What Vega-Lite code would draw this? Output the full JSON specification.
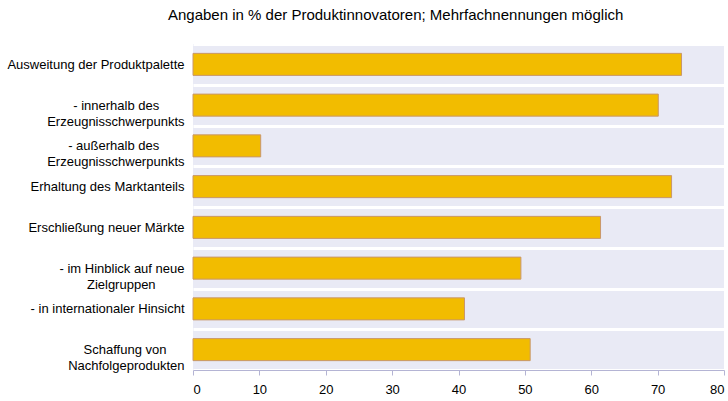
{
  "$schema": "https://vega.github.io/schema/vega-lite/v6.json",
  "autosize": "none",
  "width": 531,
  "height": 326,
  "padding": {"left": 193, "top": 44, "right": 4, "bottom": 31},
  "config": {
    "font": "Liberation Sans",
    "view": {"fill": "#e9eaf5", "stroke": null}
  },
  "title": {
    "text": "Angaben in % der Produktinnovatoren; Mehrfachnennungen möglich",
    "anchor": "start",
    "frame": "group",
    "dx": -25,
    "offset": 15,
    "fontSize": 15,
    "fontWeight": "normal",
    "color": "#000000"
  },
  "data": {
    "values": [
      {"order": 1, "cat": "Ausweitung der Produktpalette", "value": 73.6},
      {"order": 2, "cat": "- innerhalb des\u00a0\u00a0\u00a0\u00a0\u00a0\u00a0\u00a0\u200b|Erzeugnisschwerpunkts", "value": 70.1},
      {"order": 3, "cat": "- außerhalb des\u00a0\u00a0\u00a0\u00a0\u00a0\u00a0\u00a0\u200b|Erzeugnisschwerpunkts", "value": 10.2},
      {"order": 4, "cat": "Erhaltung des Marktanteils", "value": 72.1},
      {"order": 5, "cat": "Erschließung neuer Märkte", "value": 61.4},
      {"order": 6, "cat": "- im Hinblick auf neue|Zielgruppen\u00a0\u00a0\u00a0\u00a0\u00a0\u00a0\u00a0\u00a0\u200b", "value": 49.4},
      {"order": 7, "cat": "- in internationaler Hinsicht", "value": 40.9},
      {"order": 8, "cat": "Schaffung von\u00a0\u00a0\u00a0\u00a0\u00a0\u200b|Nachfolgeprodukten", "value": 50.8}
    ]
  },
  "mark": {"type": "bar", "color": "#f2bc00", "stroke": "#c9976b", "strokeWidth": 1, "height": {"band": 0.54}},
  "encoding": {
    "y": {
      "field": "cat",
      "type": "nominal",
      "sort": {"field": "order"},
      "scale": {"paddingInner": 0, "paddingOuter": 0},
      "axis": {
        "title": null,
        "domain": false,
        "ticks": false,
        "grid": true,
        "tickBand": "extent",
        "gridColor": "#ffffff",
        "gridWidth": 3,
        "labelExpr": "split(datum.label, '|')",
        "labelFontSize": 13,
        "labelColor": "#000000",
        "labelLineHeight": 16,
        "labelPadding": 9,
        "labelLimit": 200
      }
    },
    "x": {
      "field": "value",
      "type": "quantitative",
      "scale": {"domain": [0, 80], "nice": false},
      "axis": {
        "title": null,
        "values": [0, 10, 20, 30, 40, 50, 60, 70, 80],
        "grid": false,
        "domainColor": "#b4b4d4",
        "tickColor": "#b4b4d4",
        "tickSize": 5,
        "labelFontSize": 13,
        "labelColor": "#000000",
        "labelPadding": 8
      }
    }
  }
}
